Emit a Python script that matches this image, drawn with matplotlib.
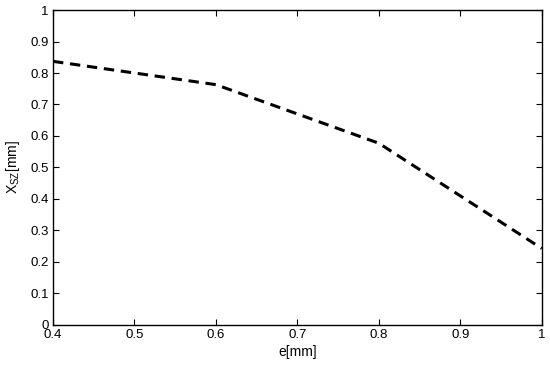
import matplotlib
matplotlib.use("Agg")
import matplotlib.pyplot as plt

e_mm = [0.4, 0.6, 0.8, 1.0]
x_sz = [0.837, 0.763, 0.577, 0.243]

x_ticks = [0.4, 0.5, 0.6, 0.7, 0.8, 0.9, 1.0]
x_labels = ["0.4", "0.5", "0.6", "0.7", "0.8", "0.9", "1"]
y_ticks = [0, 0.1, 0.2, 0.3, 0.4, 0.5, 0.6, 0.7, 0.8, 0.9, 1.0]
y_labels = ["0", "0.1", "0.2", "0.3", "0.4", "0.5", "0.6", "0.7", "0.8", "0.9", "1"]

plt.rcParams["font.family"] = ["Liberation Sans", "DejaVu Sans"]

fig = plt.figure(figsize=(5.5, 3.65), dpi=100)
ax = fig.add_axes([0.0964, 0.1096, 0.8886, 0.863])
ax.plot(e_mm, x_sz, color="black", linestyle=(0, (3.4, 2.2)), linewidth=2.2)

ax.set_xlim(0.4, 1.0)
ax.set_ylim(0, 1)
ax.set_xticks(x_ticks)
ax.set_xticklabels(x_labels)
ax.set_yticks(y_ticks)
ax.set_yticklabels(y_labels)
ax.tick_params(direction="in", top=True, right=True, length=4, width=0.8,
               labelsize=9.5, colors="black", pad=3)
for side in ax.spines.values():
    side.set_linewidth(1.0)
ax.set_xlabel("e[mm]", fontsize=10, labelpad=3)
ax.set_ylabel("X$_{\\mathregular{SZ}}$[mm]", fontsize=10, labelpad=6)

fig.savefig("out.png", dpi=100)
plt.close(fig)
